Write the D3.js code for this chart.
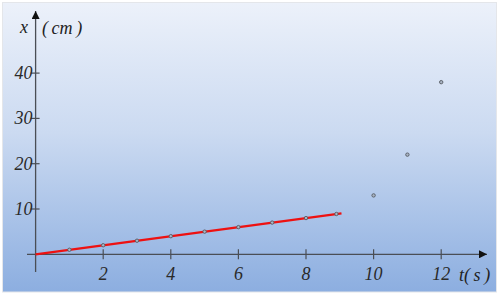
<!DOCTYPE html>
<html><head><meta charset="utf-8">
<script src="https://cdn.jsdelivr.net/npm/d3@7"></script>
<style>html,body{margin:0;padding:0;background:#fff;}svg{display:block;}</style>
</head><body>
<script>
const times = [1,2,3,4,5,6,7,8,8.9,10,11,12];
const positions = [1,2,3,4,5,6,7,8,8.9,13,22,38];
const fitT = [0, 9.05];
const fitX = [0, 9.05];
const xTicks = [2,4,6,8,10,12];
const yTicks = [10,20,30,40];

const W=500,H=294;
const svg=d3.select("body").append("svg").attr("width",W).attr("height",H);
const defs=svg.append("defs");
const g=defs.append("linearGradient").attr("id","bg").attr("x1",0).attr("y1",0).attr("x2",0).attr("y2",1);
g.append("stop").attr("offset","0%").attr("stop-color","#ecf1fa");
g.append("stop").attr("offset","45%").attr("stop-color","#cbdaf1");
g.append("stop").attr("offset","100%").attr("stop-color","#8caee0");
const mk=defs.append("marker").attr("id","arr").attr("viewBox","0 0 10 10").attr("refX",10).attr("refY",5)
 .attr("markerWidth",10).attr("markerHeight",8).attr("markerUnits","userSpaceOnUse").attr("orient","auto");
mk.append("path").attr("d","M0,0L10,5L0,10z").attr("fill","#111");

svg.append("rect").attr("x",2.5).attr("y",2.5).attr("width",494).attr("height",289.5)
 .attr("fill","url(#bg)").attr("stroke","#e4e6ea").attr("stroke-width",1);

const x=d3.scaleLinear().domain([0,12]).range([35.6,441.2]);
const y=d3.scaleLinear().domain([0,40]).range([254.3,73.1]);
const axisCol="#4a4e55";
svg.append("line").attr("x1",27).attr("x2",487).attr("y1",y(0)).attr("y2",y(0))
 .attr("stroke",axisCol).attr("stroke-width",1.3).attr("marker-end","url(#arr)");
svg.append("line").attr("x1",x(0)).attr("x2",x(0)).attr("y1",272).attr("y2",11)
 .attr("stroke",axisCol).attr("stroke-width",1.3).attr("marker-end","url(#arr)");

const font="Liberation Serif";
const xa=svg.append("g");
xTicks.forEach(v=>{
  xa.append("line").attr("x1",x(v)).attr("x2",x(v)).attr("y1",y(0)-5).attr("y2",y(0)+5).attr("stroke",axisCol).attr("stroke-width",1.2);
  xa.append("text").attr("x",x(v)).attr("y",280).attr("text-anchor","middle")
   .attr("font-family",font).attr("font-style","italic").attr("font-size",18).attr("fill","#2a2a2a").text(v);
});
yTicks.forEach(v=>{
  xa.append("line").attr("x1",x(0)-5).attr("x2",x(0)+4).attr("y1",y(v)).attr("y2",y(v)).attr("stroke",axisCol).attr("stroke-width",1.2);
  xa.append("text").attr("x",x(0)-3).attr("y",y(v)+6).attr("text-anchor","end")
   .attr("font-family",font).attr("font-style","italic").attr("font-size",18).attr("fill","#2a2a2a").text(v);
});
svg.append("text").attr("x",20).attr("y",33).attr("font-family",font).attr("font-style","italic")
 .attr("font-size",18).attr("fill","#222").text("x");
svg.append("text").attr("x",42).attr("y",34).attr("font-family",font).attr("font-style","italic")
 .attr("font-size",18).attr("fill","#222").text("(\u2009cm\u2009)");
svg.append("text").attr("x",459).attr("y",281).attr("font-family",font).attr("font-style","italic")
 .attr("font-size",18).attr("fill","#222").text("t(\u2009s\u2009)");

const line=d3.line().x(d=>x(d[0])).y(d=>y(d[1]));
svg.append("path").datum(fitT.map((t,i)=>[t,fitX[i]])).attr("d",line)
 .attr("fill","none").attr("stroke","#ee1111").attr("stroke-width",2.3);

svg.append("g").selectAll("circle").data(times.map((t,i)=>[t,positions[i]])).join("circle")
 .attr("cx",d=>x(d[0])).attr("cy",d=>y(d[1])).attr("r",1.7)
 .attr("fill","#a9b4c4").attr("stroke","#555a62").attr("stroke-width",0.9);
</script>
</body></html>
